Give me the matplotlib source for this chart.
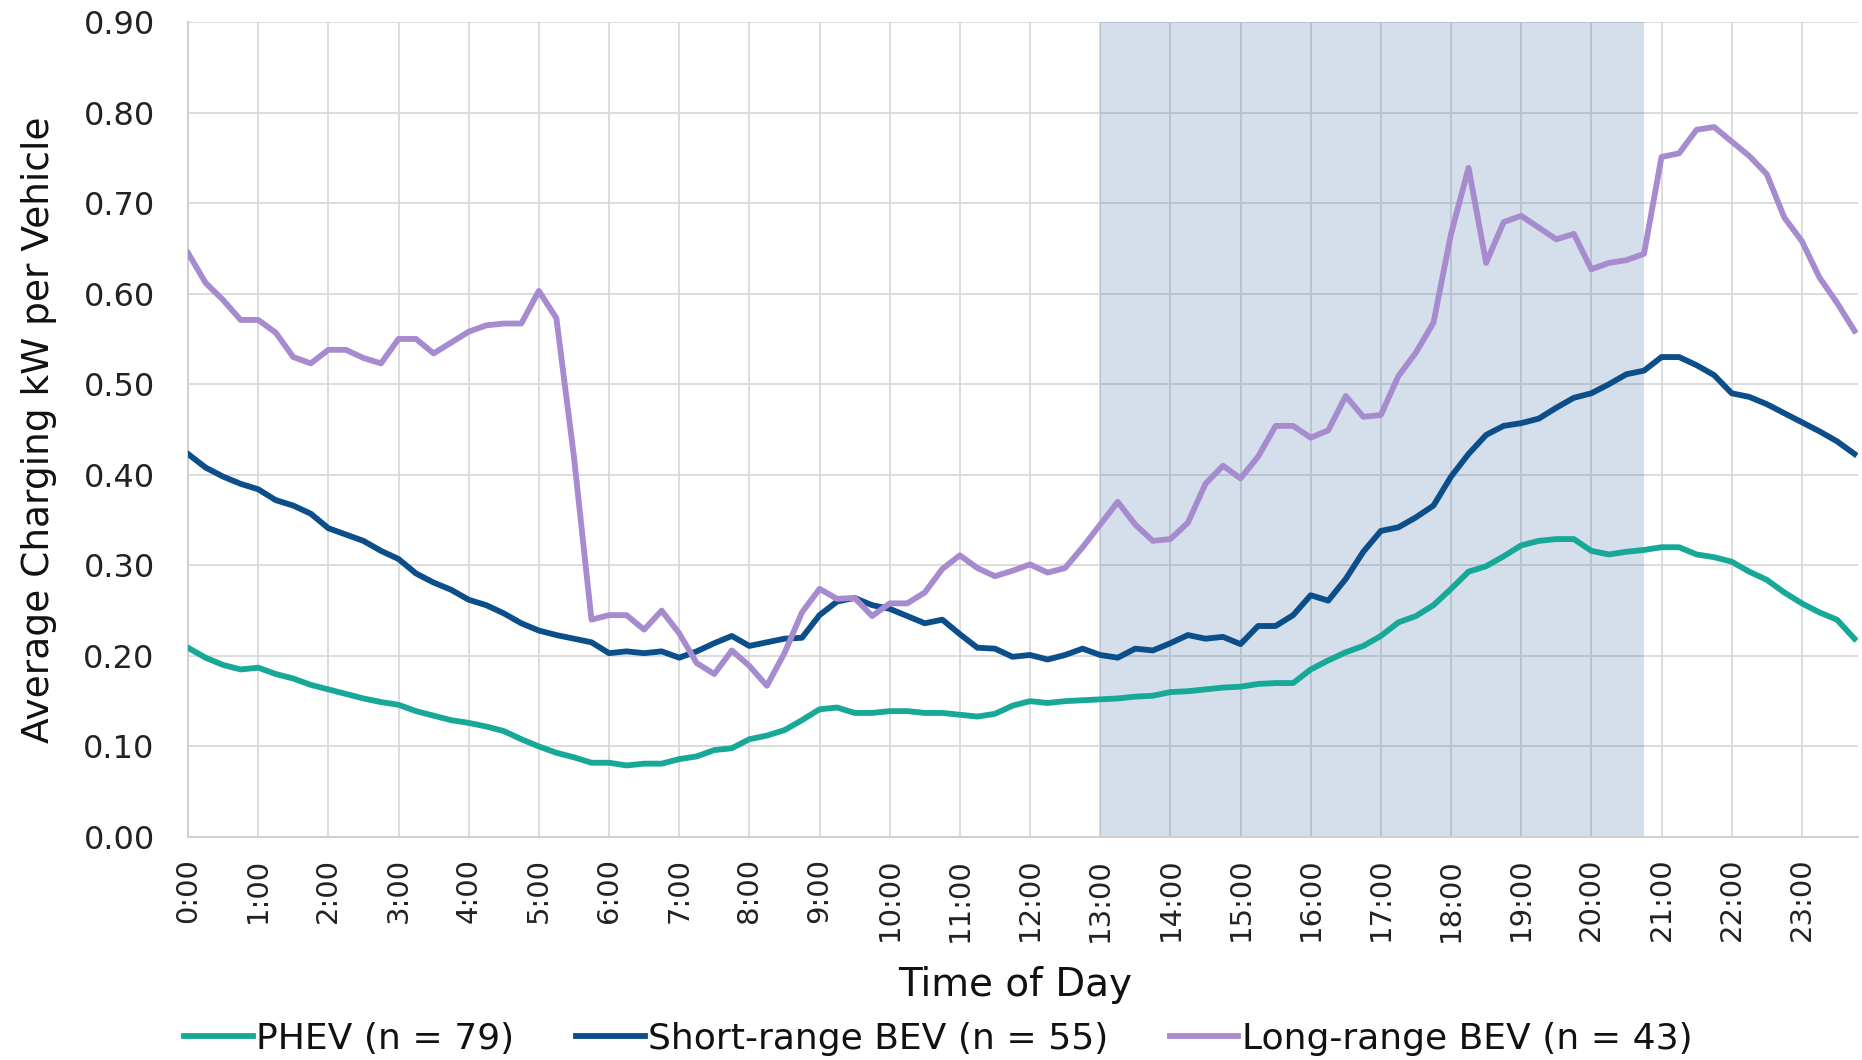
import matplotlib
matplotlib.use("Agg")
import matplotlib.pyplot as plt
import numpy as np

plt.rcParams['font.family'] = ['DejaVu Sans']

hour_labels = ["0:00", "1:00", "2:00", "3:00", "4:00", "5:00", "6:00", "7:00",
               "8:00", "9:00", "10:00", "11:00", "12:00", "13:00", "14:00", "15:00",
               "16:00", "17:00", "18:00", "19:00", "20:00", "21:00", "22:00", "23:00"]

phev = [0.209, 0.198, 0.190, 0.185, 0.187, 0.180, 0.175, 0.168,
        0.163, 0.158, 0.153, 0.149, 0.146, 0.139, 0.134, 0.129,
        0.126, 0.122, 0.117, 0.108, 0.100, 0.093, 0.088, 0.082,
        0.082, 0.079, 0.081, 0.081, 0.086, 0.089, 0.096, 0.098,
        0.108, 0.112, 0.118, 0.129, 0.141, 0.143, 0.137, 0.137,
        0.139, 0.139, 0.137, 0.137, 0.135, 0.133, 0.136, 0.145,
        0.150, 0.148, 0.150, 0.151, 0.152, 0.153, 0.155, 0.156,
        0.160, 0.161, 0.163, 0.165, 0.166, 0.169, 0.170, 0.170,
        0.185, 0.195, 0.204, 0.211, 0.222, 0.237, 0.244, 0.256,
        0.274, 0.293, 0.299, 0.310, 0.322, 0.327, 0.329, 0.329,
        0.316, 0.312, 0.315, 0.317, 0.320, 0.320, 0.312, 0.309,
        0.304, 0.293, 0.284, 0.270, 0.258, 0.248, 0.240, 0.219]

short_bev = [0.423, 0.408, 0.398, 0.390, 0.384, 0.372, 0.366, 0.357,
             0.341, 0.334, 0.327, 0.316, 0.307, 0.291, 0.281, 0.273,
             0.262, 0.256, 0.247, 0.236, 0.228, 0.223, 0.219, 0.215,
             0.203, 0.205, 0.203, 0.205, 0.198, 0.205, 0.214, 0.222,
             0.211, 0.215, 0.219, 0.220, 0.245, 0.260, 0.264, 0.256,
             0.252, 0.244, 0.236, 0.240, 0.224, 0.209, 0.208, 0.199,
             0.201, 0.196, 0.201, 0.208, 0.201, 0.198, 0.208, 0.206,
             0.214, 0.223, 0.219, 0.221, 0.213, 0.233, 0.233, 0.245,
             0.267, 0.261, 0.285, 0.315, 0.338, 0.342, 0.353, 0.366,
             0.398, 0.423, 0.444, 0.454, 0.457, 0.462, 0.474, 0.485,
             0.490, 0.500, 0.511, 0.515, 0.530, 0.530, 0.521, 0.510,
             0.490, 0.486, 0.478, 0.468, 0.458, 0.448, 0.437, 0.423]

long_bev = [0.645, 0.612, 0.593, 0.571, 0.571, 0.557, 0.530, 0.523,
            0.538, 0.538, 0.529, 0.523, 0.550, 0.550, 0.534, 0.546,
            0.558, 0.565, 0.567, 0.567, 0.603, 0.573, 0.420, 0.240,
            0.245, 0.245, 0.229, 0.250, 0.225, 0.192, 0.180, 0.206,
            0.189, 0.167, 0.203, 0.248, 0.274, 0.263, 0.264, 0.244,
            0.258, 0.258, 0.270, 0.296, 0.311, 0.297, 0.288, 0.294,
            0.301, 0.292, 0.297, 0.320, 0.345, 0.370, 0.345, 0.327,
            0.329, 0.347, 0.390, 0.410, 0.396, 0.420, 0.454, 0.454,
            0.441, 0.449, 0.487, 0.464, 0.466, 0.509, 0.535, 0.568,
            0.666, 0.739, 0.634, 0.679, 0.686, 0.673, 0.660, 0.666,
            0.627, 0.634, 0.637, 0.644, 0.751, 0.755, 0.781, 0.784,
            0.768, 0.752, 0.732, 0.684, 0.658, 0.618, 0.590, 0.559]

series_names = ["PHEV (n = 79)", "Short-range BEV (n = 55)", "Long-range BEV (n = 43)"]
series_colors = ["#17A898", "#0C4E8A", "#A68BCE"]

shade_start_hour = 13.0
shade_end_hour = 20.75

fig = plt.figure(figsize=(18.62, 10.60), dpi=100)
ax = fig.add_axes([188/1862, 1-837/1060, (1858-188)/1862, (837-22)/1060])

x = np.arange(len(phev))
for vals, name, col in zip([phev, short_bev, long_bev], series_names, series_colors):
    ax.plot(x, vals, color=col, lw=4.2, label=name, zorder=3)

ax.axvspan(shade_start_hour*4, shade_end_hour*4, color='#2F5F9F', alpha=0.2, lw=0, zorder=1)

ax.set_xlim(0, 95.2)
ax.set_ylim(0, 0.9)
ax.set_yticks(np.arange(0, 0.91, 0.1))
ax.set_yticklabels([f"{v:.2f}" for v in np.arange(0, 0.91, 0.1)], fontsize=23, color='#222222')
ax.set_xticks(np.arange(0, 96, 4))
ax.set_xticklabels(hour_labels, rotation=90, fontsize=21, color='#222222', va='top', ha='center')
ax.tick_params(axis='y', length=0, pad=24)
ax.tick_params(axis='x', length=0, pad=15)
ax.grid(True, color='#D9D9D9', lw=1.3, zorder=0)
ax.set_axisbelow(True)
for s in ['top', 'right']:
    ax.spines[s].set_visible(False)
for s in ['left', 'bottom']:
    ax.spines[s].set_color('#D0D0D0')
    ax.spines[s].set_linewidth(1.5)

yl = ax.set_ylabel("Average Charging kW per Vehicle", fontsize=27, color='#111111')
yl.set_va('center')
ax.yaxis.set_label_coords((39-188)/1670, 0.5)
xl = ax.set_xlabel("Time of Day", fontsize=28, color='#111111')
xl.set_va('center')
ax.xaxis.set_label_coords((1015-188)/1670, (837-985)/815)

leg = fig.legend(loc='center', bbox_to_anchor=(0.504, 1-1039/1060), ncol=3, frameon=False,
                 fontsize=26, handlelength=1.9, columnspacing=1.7, handletextpad=0.1,
                 borderaxespad=0)
for t in leg.get_texts():
    t.set_color('#111111')

fig.savefig("out.png", dpi=100)
